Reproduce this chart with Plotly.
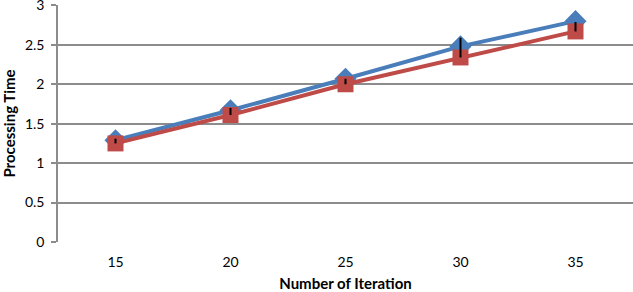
import plotly.graph_objects as go

iterations = ["15", "20", "25", "30", "35"]
series_blue = [1.29, 1.67, 2.07, 2.48, 2.80]
series_red = [1.25, 1.61, 2.00, 2.34, 2.67]
red_err_up = [0.06, 0.09, 0.07, 0.25, 0.12]
y_ticks = [0, 0.5, 1, 1.5, 2, 2.5, 3]
y_tick_text = ["0", "0.5", "1", "1.5", "2", "2.5", "3"]

font_family = "Lato, Open Sans, sans-serif"

fig = go.Figure()
fig.add_trace(go.Scatter(
    x=iterations, y=series_blue, mode="lines+markers",
    line=dict(color="#4a7ebb", width=4),
    marker=dict(symbol="diamond", size=17, color="#4a7ebb"),
    showlegend=False,
))
fig.add_trace(go.Scatter(
    x=iterations, y=series_red, mode="lines+markers",
    line=dict(color="#be4b48", width=4),
    marker=dict(symbol="square", size=16, color="#be4b48"),
    showlegend=False,
))
# error bars drawn on top of the markers
fig.add_trace(go.Scatter(
    x=iterations, y=series_red, mode="markers",
    marker=dict(size=1, opacity=0),
    error_y=dict(type="data", symmetric=False, array=red_err_up,
                 arrayminus=[0] * len(red_err_up), color="black",
                 thickness=2, width=0),
    showlegend=False, hoverinfo="skip",
))

fig.update_layout(
    width=633, height=292,
    margin=dict(l=58, r=0, t=5, b=50),
    paper_bgcolor="white", plot_bgcolor="white",
    font=dict(family=font_family, size=14, color="black"),
    xaxis=dict(
        type="category", range=[-0.5, 4.5],
        showgrid=False, showline=False, zeroline=False,
        ticks="outside", ticklen=7, tickcolor="rgba(0,0,0,0)",
        tickfont=dict(size=14), automargin=False,
        title=dict(text="<b>Number of Iteration</b>", font=dict(size=15), standoff=12),
    ),
    yaxis=dict(
        range=[0, 3.005], tickvals=y_ticks, ticktext=y_tick_text,
        showgrid=True, gridcolor="#8c8c8c", gridwidth=1.5,
        showline=True, linecolor="#8c8c8c", linewidth=1.5,
        zeroline=False, automargin=False, ticklabeloverflow="allow",
        ticks="outside", ticklen=5, tickcolor="#8c8c8c", tickwidth=1.5,
        tickfont=dict(size=14), ticklabelstandoff=4,
        title=dict(text="<b>Processing Time</b>", font=dict(size=15), standoff=6),
    ),
)

fig.write_html("out.html", config={"displayModeBar": False},
               post_script="document.body.style.margin='0';")
